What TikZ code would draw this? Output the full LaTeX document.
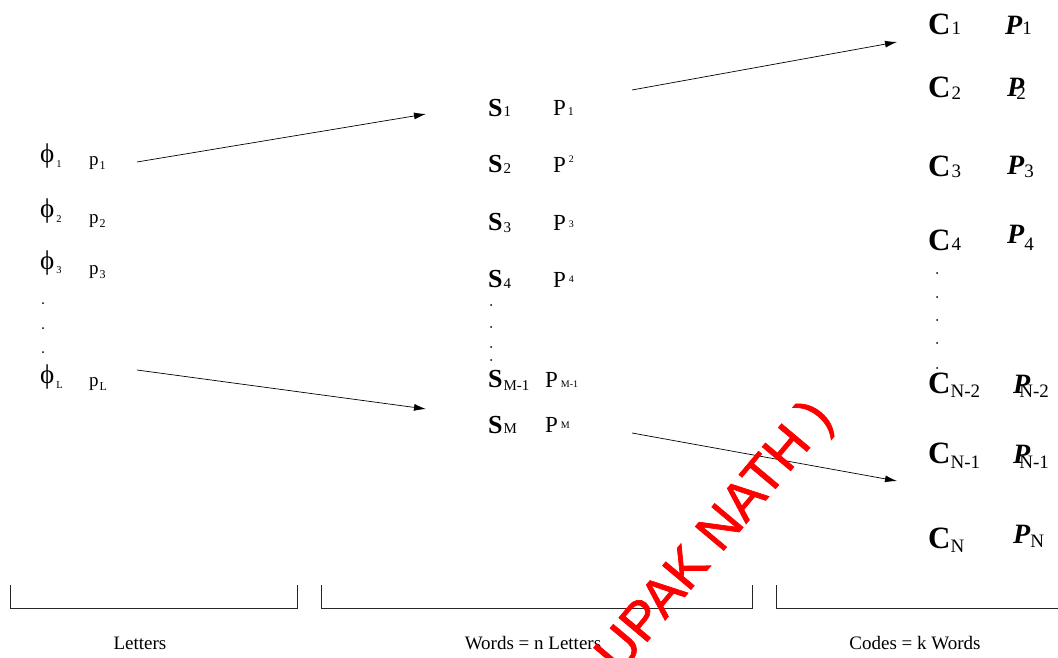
\documentclass[tikz,border=0pt]{standalone}
\usepackage{fontspec}
\setmainfont{Liberation Serif}
\newfontfamily\markfont[FakeBold=1.3]{Liberation Sans}
\usetikzlibrary{arrows.meta}

\newcommand{\fs}[1]{\fontsize{#1}{#1}\selectfont}
% kern, drop, size, text
\newcommand{\subtx}[4]{\kern#1\raisebox{-#2}{\normalfont\fs{#3}#4}}

\begin{document}
\begin{tikzpicture}[x=1pt,y=-1pt,
  lab/.style={anchor=base west,inner sep=0pt},
  letter/.style={lab,font=\fs{27}},
  prob/.style={lab,font=\fs{19}},
  word/.style={lab,font=\fs{26}\bfseries},
  wprob/.style={lab,font=\fs{23}},
  code/.style={lab,font=\fs{31}\bfseries},
  cprob/.style={lab,font=\fs{28}\bfseries\itshape},
  dot/.style={circle,fill,inner sep=0pt,minimum size=2pt},
  brace/.style={line width=0.8pt,black!85},
  caption/.style={anchor=base,inner sep=0pt,font=\fs{19}},
  arr/.style={line width=0.7pt,-{Latex[length=12pt,width=7pt]}}]
  \useasboundingbox (0,0) rectangle (1058,658);
  \clip (0,0) rectangle (1058,658);

  % letters
  \node[letter] (f1) at (40,163) {ϕ\subtx{2pt}{5pt}{10.5}{1}};
  \node[prob] (p1) at (89,166) {p\subtx{1pt}{4pt}{12}{1}};
  \node[letter] (f2) at (40,218) {ϕ\subtx{2pt}{5pt}{10.5}{2}};
  \node[prob] (p2) at (89,223) {p\subtx{1pt}{4pt}{12}{2}};
  \node[letter] (f3) at (40,269) {ϕ\subtx{2pt}{5pt}{10.5}{3}};
  \node[prob] (p3) at (89,274) {p\subtx{1pt}{4pt}{12}{3}};
  \foreach \y [count=\i] in {303,328,352}
    \node[dot] (dl\i) at (43,\y) {};
  \node[letter] (fL) at (40,383) {ϕ\subtx{2pt}{5pt}{10.5}{L}};
  \node[prob] (pL) at (89,386) {p\subtx{1pt}{4pt}{12}{L}};

  % words
  \node[word] (s1) at (488,117) {S\subtx{1pt}{0pt}{15}{1}};
  \node[wprob] (q1) at (553,116) {P\subtx{2pt}{0pt}{12}{1}};
  \node[word] (s2) at (488,173) {S\subtx{1pt}{1pt}{15}{2}};
  \node[wprob] (q2) at (553,173) {P\subtx{3pt}{-10pt}{10}{2}};
  \node[word] (s3) at (488,230) {S\subtx{1pt}{2pt}{15}{3}};
  \node[wprob] (q3) at (553,230) {P\subtx{3pt}{-3pt}{10}{3}};
  \node[word] (s4) at (488,287) {S\subtx{1pt}{1pt}{15}{4}};
  \node[wprob] (q4) at (553,287) {P\subtx{3pt}{-5pt}{10}{4}};
  \foreach \y [count=\i] in {305,327,347,360}
    \node[dot] (dm\i) at (491,\y) {};
  \node[word] (sM1) at (488,387) {S\subtx{1pt}{3pt}{15}{M-1}};
  \node[wprob] (qM1) at (545,387) {P\subtx{3pt}{0pt}{10}{M-1}};
  \node[word] (sM) at (488,433) {S\subtx{1pt}{0pt}{15}{M}};
  \node[wprob] (qM) at (545,432) {P\subtx{3pt}{-4pt}{10}{M}};

  % codes
  \node[code] (c1) at (928,35) {C\subtx{1pt}{0pt}{19}{1}};
  \node[cprob] (r1) at (1005,35) {P\subtx{0pt}{0pt}{19}{1}};
  \node[code] (c2) at (928,98) {C\subtx{1pt}{2pt}{19}{2}};
  \node[cprob] (r2) at (1007,97) {P\subtx{-8pt}{3pt}{19}{2}};
  \node[code] (c3) at (928,177) {C\subtx{1pt}{1pt}{19}{3}};
  \node[cprob] (r3) at (1007,175) {P\subtx{0pt}{3pt}{19}{3}};
  \node[code] (c4) at (928,250) {C\subtx{1pt}{0pt}{19}{4}};
  \node[cprob] (r4) at (1007,243) {P\subtx{0pt}{7pt}{19}{4}};
  \foreach \y [count=\i] in {273,297,320,343,368}
    \node[dot] (dr\i) at (937,\y) {};
  \node[code] (cN2) at (928,393) {C\subtx{0pt}{4pt}{19}{N-2}};
  \node[cprob] (rN2) at (1013,393) {P\subtx{-11pt}{4pt}{19}{N-2}};
  \node[code] (cN1) at (928,463) {C\subtx{0pt}{5pt}{19}{N-1}};
  \node[cprob] (rN1) at (1013,463) {P\subtx{-11pt}{5pt}{19}{N-1}};
  \node[code] (cN) at (928,548) {C\subtx{0pt}{4pt}{19}{N}};
  \node[cprob] (rN) at (1013,543) {P\subtx{0pt}{4pt}{19}{N}};

  % arrows
  \coordinate (a1) at (137,162); \coordinate (b1) at (426,114);
  \coordinate (a2) at (137,370); \coordinate (b2) at (426,409);
  \coordinate (a3) at (632,90);  \coordinate (b3) at (897,42);
  \coordinate (a4) at (632,433); \coordinate (b4) at (897,481);
  \draw[arr] (a1) -- (b1);
  \draw[arr] (a2) -- (b2);
  \draw[arr] (a3) -- (b3);
  \draw[arr] (a4) -- (b4);

  % brackets
  \draw[brace] (10,585) |- (297,608) -- (297,585);
  \draw[brace] (321,585) |- (752,608) -- (752,585);
  \draw[brace] (776,585) |- (1058,608);
  \node[caption] (t1) at (140,649) {Letters};
  \node[caption] (t2) at (533,649) {Words = n Letters};
  \node[caption] (t3) at (915,649) {Codes = k Words};

  \node[rotate=50,text=red,inner sep=0pt,font=\fs{54}\markfont] (mark) at (716,538) {UPAK NATH )};
\end{tikzpicture}
\end{document}
